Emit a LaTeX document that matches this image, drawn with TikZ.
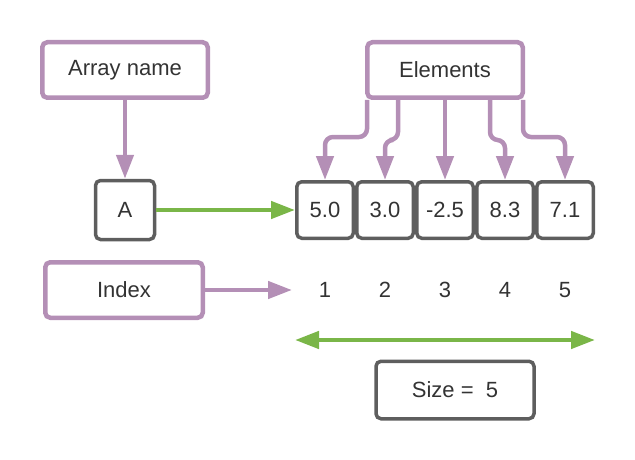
\documentclass[tikz,border=0pt]{standalone}
\usepackage{fontspec}
\setmainfont{Liberation Sans}
\usetikzlibrary{positioning, arrows.meta}
\definecolor{lpurple}{HTML}{B48FB6}
\definecolor{lgreen}{HTML}{7AB648}
\definecolor{lgray}{HTML}{5E5E5E}
\definecolor{ltext}{HTML}{333333}

\begin{document}
\begin{tikzpicture}[x = 1pt, y = -1pt, node distance = 0pt,
		>={Triangle[length = 24pt, width = 17pt]},
		every node/.style = {text = ltext, font = \fontsize{22}{26}\selectfont},
		pbox/.style = {draw = lpurple, line width = 4.5pt, rounded corners = 5pt, minimum height = 55.5pt},
		gbox/.style = {draw = lgray, line width = 3.5pt, rounded corners = 5pt, minimum height = 56.5pt},
		cell/.style = {gbox, minimum width = 56.5pt},
		parrow/.style = {draw = lpurple, line width = 4.5pt, ->},
		garrow/.style = {draw = lgreen, line width = 4.5pt, ->}]
		\useasboundingbox (0, 0) rectangle (635, 460);
		\node[pbox, minimum width = 165.5pt] (Name) at (125, 70) {Array name};
		\node[pbox, minimum width = 155.5pt] (Elem) at (445, 70) {Elements};
		\node[gbox, minimum width = 59pt, minimum height = 59pt] (A) at (125, 210) {A};
		\node[cell] (C1) at (325, 210) {5.0};
		\node[cell, right = of C1] (C2) {3.0};
		\node[cell, right = of C2] (C3) {-2.5};
		\node[cell, right = of C3] (C4) {8.3};
		\node[cell, right = of C4] (C5) {7.1};
		\node[pbox, minimum width = 157.5pt] (Idx) at (124, 290) {Index};
		\foreach \i in {1,...,5}
			\node (I\i) at (C\i |- Idx) {\i};
		\node[gbox, minimum width = 158pt, minimum height = 57.5pt] (Size) at (455, 390) {Size = \ 5};
		\coordinate (IdxEnd) at (292, 290);
		\coordinate (SizeL) at (295, 340);
		\coordinate (SizeR) at (595, 340);
		% arrows
		\draw[parrow] (Name) -- (A);
		\draw[garrow] (A) -- (C1);
		\draw[parrow] (Idx) -- (IdxEnd);
		\draw[garrow, <->] (SizeL) -- (SizeR);
		\draw[parrow, rounded corners = 8pt] ([xshift = 2pt]Elem.south west) -- ++(0, 37) -| (C1.north);
		\draw[parrow, rounded corners = 8pt] ([xshift = 33pt]Elem.south west) -- ++(0, 40) -| (C2.north);
		\draw[parrow] (Elem) -- (C3);
		\draw[parrow, rounded corners = 8pt] ([xshift = -35pt]Elem.south east) -- ++(0, 40) -| (C4.north);
		\draw[parrow, rounded corners = 8pt] ([xshift = -2pt]Elem.south east) -- ++(0, 37) -| (C5.north);
	\end{tikzpicture}
\end{document}
